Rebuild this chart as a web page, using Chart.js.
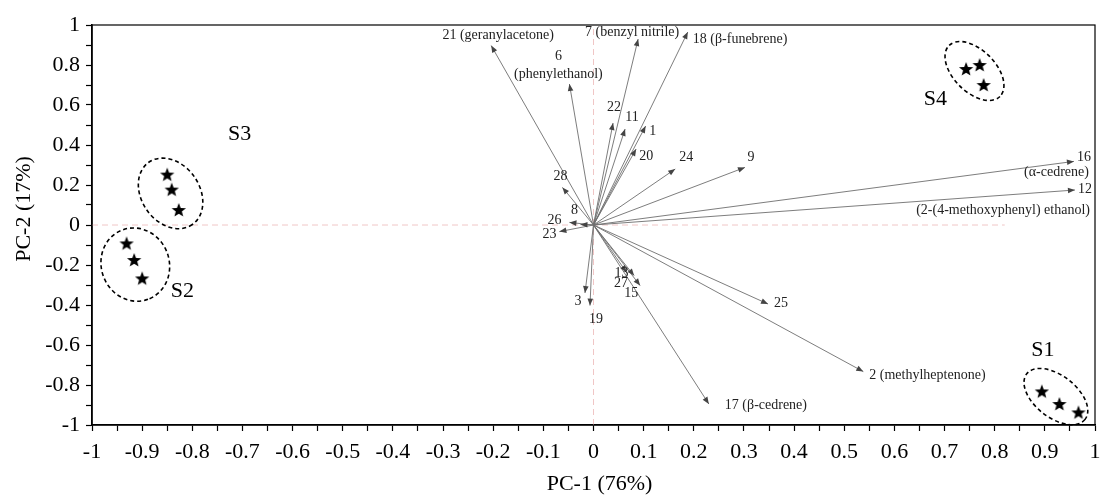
<!DOCTYPE html>
<html>
<head>
<meta charset="utf-8">
<script src="https://cdn.jsdelivr.net/npm/chart.js@4.4.0/dist/chart.umd.min.js"></script>
<style>
  html, body { margin: 0; padding: 0; background: #fff; }
  #wrap { width: 1105px; height: 495px; }
</style>
</head>
<body>
<div id="wrap"><canvas id="pca"></canvas></div>
<script>
// loadings (arrows)
const loadingIds = ['1', '2', '3', '6', '7', '8', '9', '11', '12', '13', '15', '16', '17', '18',
  '19', '20', '21', '22', '23', '24', '25', '26', '27', '28'];
const loadingX = [0.104, 0.538, -0.017, -0.048, 0.089, -0.026, 0.302, 0.063, 0.96, 0.066, 0.093, 0.958, 0.23, 0.188,
  -0.007, 0.085, -0.204, 0.039, -0.068, 0.163, 0.348, -0.048, 0.081, -0.062];
const loadingY = [0.495, -0.733, -0.34, 0.705, 0.93, 0.002, 0.288, 0.48, 0.175, -0.237, -0.303, 0.318, -0.895, 0.965,
  -0.403, 0.38, 0.897, 0.51, -0.033, 0.28, -0.395, 0.013, -0.253, 0.188];
const loadingNames = {
  '2': 'methylheptenone',
  '6': 'phenylethanol',
  '7': 'benzyl nitrile',
  '12': '2-(4-methoxyphenyl) ethanol',
  '16': 'α-cedrene',
  '17': 'β-cedrene',
  '18': 'β-funebrene',
  '21': 'geranylacetone'
};

// sample scores (stars)
const groupNames = ['S1', 'S2', 'S3', 'S4'];
const groupX = [[0.894, 0.929, 0.967], [-0.931, -0.916, -0.9], [-0.85, -0.841, -0.827], [0.743, 0.77, 0.778]];
const groupY = [[-0.832, -0.895, -0.937], [-0.092, -0.175, -0.267], [0.252, 0.177, 0.075], [0.78, 0.80, 0.70]];

const xTickLabels = ['-1', '-0.9', '-0.8', '-0.7', '-0.6', '-0.5', '-0.4', '-0.3', '-0.2', '-0.1', '0',
  '0.1', '0.2', '0.3', '0.4', '0.5', '0.6', '0.7', '0.8', '0.9', '1'];
const yTickLabels = ['-1', '-0.8', '-0.6', '-0.4', '-0.2', '0', '0.2', '0.4', '0.6', '0.8', '1'];
const xTitle = 'PC-1 (76%)';
const yTitle = 'PC-2 (17%)';
const zeroLineEnd = 0.82;

const SERIF = '"Liberation Serif", "Times New Roman", serif';

// label offsets in px from the arrow tip: [dx, dy, align] per line
const labelPlace = {
  '1': [[7, 5, 'center']],
  '2': [[6, 4, 'left']],
  '3': [[-7, 8, 'center']],
  '6': [[-11, -28, 'center'], [-11, -10, 'center']],
  '7': [[-6, -7, 'center']],
  '8': [[-6, -14, 'center']],
  '9': [[6, -10, 'center']],
  '11': [[7, -12, 'center']],
  '12': [[3, -1, 'left'], [15, 20, 'right']],
  '13': [[-5, 1, 'center']],
  '15': [[-9, 8, 'center']],
  '16': [[3, -4, 'left'], [15, 11, 'right']],
  '17': [[16, 1, 'left']],
  '18': [[5, 7, 'left']],
  '19': [[6, 14, 'center']],
  '20': [[10, 7, 'center']],
  '21': [[7, -10, 'center']],
  '22': [[1, -16, 'center']],
  '23': [[-10, 3, 'center']],
  '24': [[11, -12, 'center']],
  '25': [[13, -1, 'center']],
  '26': [[-15, -2, 'center']],
  '27': [[-13, 8, 'center']],
  '28': [[-2, -11, 'center']]
};
const twoLine = ['6', '12', '16'];

// ellipse: offset from group centre, radii, rotation (deg); label offset
const groupShape = {
  S1: { dx: -4, dy: -6, rx: 37, ry: 21, rot: 38, lx: -17, ly: -52 },
  S2: { dx: 1, dy: 4, rx: 37, ry: 34, rot: 70, lx: 48, ly: 31 },
  S3: { dx: -2, dy: 2, rx: 38, ry: 29, rot: 55, lx: 67, ly: -57 },
  S4: { dx: -2, dy: -2, rx: 36, ry: 21, rot: 45, lx: -41, ly: 26 }
};

function starCanvas() {
  const c = document.createElement('canvas');
  c.width = 18; c.height = 18;
  const g = c.getContext('2d');
  g.beginPath();
  for (let i = 0; i < 10; i++) {
    const r = i % 2 === 0 ? 7.5 : 3.2;
    const a = -Math.PI / 2 + i * Math.PI / 5;
    const px = 9 + r * Math.cos(a), py = 9.5 + r * Math.sin(a);
    if (i === 0) g.moveTo(px, py); else g.lineTo(px, py);
  }
  g.closePath();
  g.fillStyle = '#000';
  g.fill();
  return c;
}
const star = starCanvas();

const datasets = [];
groupNames.forEach((name, gi) => {
  datasets.push({
    label: name,
    data: groupX[gi].map((x, i) => ({ x: x, y: groupY[gi][i] })),
    pointStyle: star,
    pointRadius: 9
  });
});
loadingIds.forEach((id, i) => {
  datasets.push({
    label: 'L' + id,
    data: [{ x: 0, y: 0 }, { x: loadingX[i], y: loadingY[i] }],
    showLine: true,
    borderColor: '#6e6e6e',
    borderWidth: 0.9,
    pointRadius: 0
  });
});
datasets.push({
  label: 'zeroV',
  data: [{ x: 0, y: -1 }, { x: 0, y: 1 }],
  showLine: true, borderColor: '#f0c6c6', borderWidth: 1, borderDash: [6, 4], pointRadius: 0
});
datasets.push({
  label: 'zeroH',
  data: [{ x: -1, y: 0 }, { x: zeroLineEnd, y: 0 }],
  showLine: true, borderColor: '#f0c6c6', borderWidth: 1, borderDash: [6, 4], pointRadius: 0
});

const extras = {
  id: 'extras',
  afterDatasetsDraw(chart) {
    const ctx = chart.ctx;
    const xs = chart.scales.x, ys = chart.scales.y;
    const a = chart.chartArea;
    const ox = xs.getPixelForValue(0), oy = ys.getPixelForValue(0);
    ctx.save();

    // arrowheads + labels
    loadingIds.forEach((id, i) => {
      const tx = xs.getPixelForValue(loadingX[i]), ty = ys.getPixelForValue(loadingY[i]);
      const ang = Math.atan2(ty - oy, tx - ox);
      ctx.save();
      ctx.translate(tx, ty);
      ctx.rotate(ang);
      ctx.beginPath();
      ctx.moveTo(0, 0);
      ctx.lineTo(-7, -2.8);
      ctx.lineTo(-7, 2.8);
      ctx.closePath();
      ctx.fillStyle = '#444';
      ctx.fill();
      ctx.restore();

      const name = loadingNames[id];
      let lines;
      if (!name) lines = [id];
      else if (twoLine.includes(id)) lines = [id, '(' + name + ')'];
      else lines = [id + ' (' + name + ')'];
      ctx.font = '14px ' + SERIF;
      ctx.fillStyle = '#222';
      ctx.textBaseline = 'middle';
      lines.forEach((txt, k) => {
        const p = labelPlace[id][k];
        ctx.textAlign = p[2];
        ctx.fillText(txt, tx + p[0], ty + p[1]);
      });
    });

    // ellipses and group labels
    groupNames.forEach((name, gi) => {
      const cx = groupX[gi].reduce((s, v) => s + v, 0) / groupX[gi].length;
      const cy = groupY[gi].reduce((s, v) => s + v, 0) / groupY[gi].length;
      const px = xs.getPixelForValue(cx), py = ys.getPixelForValue(cy);
      const s = groupShape[name];
      ctx.beginPath();
      ctx.ellipse(px + s.dx, py + s.dy, s.rx, s.ry, s.rot * Math.PI / 180, 0, Math.PI * 2);
      ctx.setLineDash([4, 3]);
      ctx.lineWidth = 1.6;
      ctx.strokeStyle = '#000';
      ctx.stroke();
      ctx.setLineDash([]);
      ctx.font = '22px ' + SERIF;
      ctx.fillStyle = '#000';
      ctx.textAlign = 'center';
      ctx.textBaseline = 'middle';
      ctx.fillText(name, px + s.lx, py + s.ly);
    });

    // frame
    ctx.lineWidth = 1.2;
    ctx.strokeStyle = '#000';
    ctx.strokeRect(a.left, a.top, a.right - a.left, a.bottom - a.top);

    // axis titles
    ctx.font = '22px ' + SERIF;
    ctx.fillStyle = '#000';
    ctx.textAlign = 'center';
    ctx.textBaseline = 'middle';
    ctx.fillText(xTitle, (a.left + a.right) / 2 + 6, 484);
    ctx.translate(24, 209);
    ctx.rotate(-Math.PI / 2);
    ctx.fillText(yTitle, 0, 0);
    ctx.restore();
  }
};

function tickText(list) {
  return function (value) {
    const t = String(Math.round(value * 10) / 10);
    const r = Math.round(value * 100);
    return list.includes(t) && Math.abs(r / 10 - Math.round(r / 10)) < 1e-6 ? t : '';
  };
}

new Chart(document.getElementById('pca'), {
  type: 'scatter',
  data: { datasets: datasets },
  options: {
    responsive: true,
    maintainAspectRatio: false,
    animation: false,
    layout: { padding: { top: 25, right: 6, left: 0, bottom: 0 } },
    plugins: { legend: { display: false }, tooltip: { enabled: false } },
    scales: {
      x: {
        type: 'linear', min: -1, max: 1,
        afterFit: (s) => { s.height = 70; s.paddingLeft = 0; s.paddingRight = 0; },
        ticks: {
          stepSize: 0.05, autoSkip: false, maxRotation: 0, padding: 8,
          color: '#000', font: { family: SERIF, size: 22 },
          callback: tickText(xTickLabels)
        },
        grid: { drawOnChartArea: false, tickLength: 6, tickColor: '#000', tickWidth: 1.2 },
        border: { color: '#000', width: 1.6 }
      },
      y: {
        type: 'linear', min: -1, max: 1,
        afterFit: (s) => { s.width = 92; s.paddingTop = 0; s.paddingBottom = 0; },
        ticks: {
          stepSize: 0.1, autoSkip: false, padding: 6,
          color: '#000', font: { family: SERIF, size: 22 },
          callback: (v) => {
            const t = String(Math.round(v * 10) / 10);
            return yTickLabels.includes(t) ? t : '';
          }
        },
        grid: { drawOnChartArea: false, tickLength: 6, tickColor: '#000', tickWidth: 1.2 },
        border: { color: '#000', width: 1.6 }
      }
    }
  },
  plugins: [extras]
});
</script>
</body>
</html>
